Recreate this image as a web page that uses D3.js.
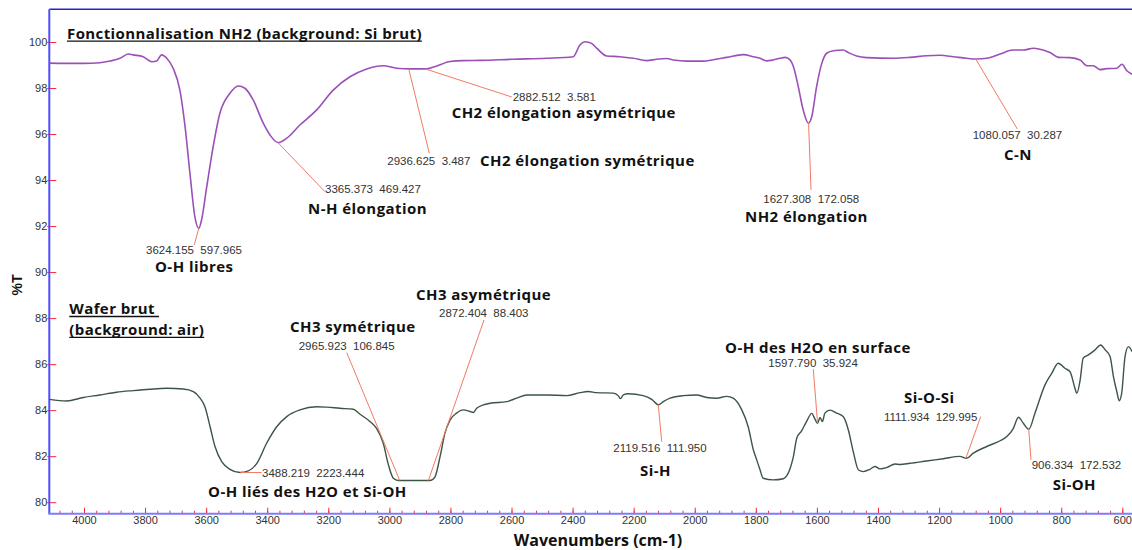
<!DOCTYPE html>
<html>
<head>
<meta charset="utf-8">
<script src="https://cdn.jsdelivr.net/npm/d3@7"></script>
<style>
  html, body { margin: 0; padding: 0; background: #fff; }
  svg { display: block; }
  .num { font-family: "Liberation Sans", Arial, sans-serif; font-size: 11.5px; fill: #333; white-space: pre; }
  .band { font-family: "Open Sans", Lato, sans-serif; font-weight: 700; font-size: 15px; letter-spacing: 0.45px; fill: #111; }
  .title { font-family: "Open Sans", Lato, sans-serif; font-weight: 700; font-size: 15px; letter-spacing: 0.4px; fill: #111; }
  .axis-title { font-family: "Open Sans", Lato, sans-serif; font-weight: 700; font-size: 16px; fill: #111; }
  .tick text { font-family: "Liberation Sans", Arial, sans-serif; font-size: 11px; fill: #333; }
</style>
</head>
<body>
<svg id="chart" width="1132" height="550"></svg>
<script>
// Functionalised wafer (NH2), background: raw Si
const topWn = [4113, 4060, 4002, 3948, 3915, 3882, 3855, 3839, 3806, 3778, 3762, 3746, 3729, 3708, 3686, 3669, 3653, 3637, 3624, 3615, 3598, 3577, 3555, 3522, 3495, 3473, 3446, 3413, 3391, 3365, 3336, 3293, 3238, 3184, 3129, 3074, 3020, 2976, 2932, 2878, 2845, 2801, 2758, 2703, 2594, 2485, 2398, 2376, 2359, 2338, 2321, 2288, 2245, 2201, 2157, 2125, 2093, 2070, 2026, 1972, 1939, 1895, 1841, 1808, 1786, 1765, 1743, 1721, 1704, 1688, 1677, 1661, 1645, 1628, 1617, 1601, 1584, 1568, 1546, 1514, 1497, 1470, 1437, 1350, 1295, 1241, 1197, 1153, 1110, 1077, 1044, 1000, 957, 924, 891, 859, 837, 809, 771, 738, 716, 695, 673, 651, 618, 601, 585, 568];
const topT  = [99.08, 99.07, 99.07, 99.10, 99.17, 99.29, 99.48, 99.44, 99.36, 99.14, 99.17, 99.44, 99.29, 98.86, 97.91, 96.32, 94.29, 92.41, 91.90, 92.27, 93.71, 95.45, 96.90, 97.77, 98.09, 97.99, 97.48, 96.47, 95.96, 95.63, 95.82, 96.39, 97.05, 97.91, 98.49, 98.83, 98.97, 98.86, 98.83, 98.83, 98.96, 99.15, 99.19, 99.20, 99.25, 99.29, 99.36, 99.87, 100.01, 99.94, 99.73, 99.39, 99.36, 99.29, 99.19, 99.25, 99.28, 99.22, 99.17, 99.17, 99.23, 99.33, 99.45, 99.36, 99.29, 99.18, 99.22, 99.29, 99.33, 99.22, 98.93, 98.06, 97.05, 96.47, 96.75, 98.06, 99.07, 99.51, 99.62, 99.65, 99.54, 99.39, 99.32, 99.29, 99.33, 99.40, 99.42, 99.36, 99.29, 99.26, 99.29, 99.48, 99.65, 99.65, 99.73, 99.65, 99.54, 99.33, 99.32, 99.22, 98.97, 98.97, 98.80, 98.84, 98.86, 99.03, 98.75, 98.60];

// Raw wafer, background: air
const bottomWn = [4113, 4057, 4002, 3948, 3893, 3839, 3784, 3729, 3675, 3642, 3620, 3604, 3587, 3571, 3549, 3522, 3489, 3462, 3434, 3402, 3369, 3336, 3293, 3238, 3205, 3162, 3118, 3096, 3063, 3042, 3020, 3003, 2987, 2971, 2867, 2851, 2834, 2818, 2801, 2780, 2758, 2736, 2725, 2714, 2692, 2670, 2616, 2583, 2550, 2485, 2419, 2376, 2349, 2321, 2267, 2250, 2243, 2234, 2218, 2169, 2141, 2119, 2103, 2081, 2038, 1994, 1961, 1928, 1895, 1874, 1846, 1825, 1808, 1797, 1786, 1776, 1743, 1710, 1688, 1677, 1666, 1650, 1634, 1617, 1606, 1598, 1590, 1582, 1574, 1557, 1535, 1514, 1497, 1481, 1464, 1448, 1426, 1410, 1394, 1372, 1344, 1328, 1295, 1241, 1186, 1132, 1110, 1088, 1044, 1000, 978, 957, 940, 924, 906, 886, 853, 831, 810, 788, 771, 755, 749, 738, 728, 711, 689, 671, 656, 640, 629, 618, 610, 602, 591, 580, 568];
const bottomT  = [84.47, 84.40, 84.55, 84.66, 84.78, 84.85, 84.91, 84.95, 84.92, 84.81, 84.52, 84.15, 83.28, 82.42, 81.76, 81.43, 81.29, 81.36, 81.69, 82.56, 83.28, 83.72, 84.01, 84.15, 84.13, 84.08, 84.04, 83.82, 83.50, 83.21, 82.56, 81.62, 81.04, 80.94, 80.94, 81.09, 81.98, 83.00, 83.58, 83.87, 84.01, 83.94, 83.90, 84.08, 84.23, 84.30, 84.37, 84.52, 84.66, 84.66, 84.63, 84.76, 84.81, 84.76, 84.74, 84.62, 84.50, 84.66, 84.71, 84.63, 84.47, 84.23, 84.37, 84.52, 84.63, 84.66, 84.55, 84.52, 84.60, 84.52, 84.01, 83.28, 82.27, 81.84, 81.40, 81.04, 80.97, 81.02, 81.45, 81.98, 82.78, 83.10, 83.50, 83.86, 83.60, 83.42, 83.68, 83.50, 83.87, 84.00, 83.87, 83.72, 83.14, 82.20, 81.40, 81.33, 81.43, 81.55, 81.45, 81.50, 81.66, 81.64, 81.69, 81.79, 81.89, 81.99, 81.91, 82.13, 82.42, 82.67, 82.85, 83.20, 83.69, 83.43, 83.17, 83.87, 85.10, 85.60, 86.04, 85.82, 85.67, 84.95, 84.73, 85.31, 86.26, 86.40, 86.62, 86.83, 86.62, 86.33, 85.46, 84.81, 84.41, 84.73, 86.33, 86.76, 86.54];

// Peak annotations
const peakSeries = ["top", "top", "top", "top", "top", "top", "bottom", "bottom", "bottom", "bottom", "bottom", "bottom", "bottom"];
const peakWn = [3624.155, 3365.373, 2936.625, 2882.512, 1627.308, 1080.057, 3488.219, 2965.923, 2872.404, 2119.516, 1597.790, 1111.934, 906.334];
const peakText = ["3624.155  597.965", "3365.373  469.427", "2936.625  3.487", "2882.512  3.581", "1627.308  172.058", "1080.057  30.287", "3488.219  2223.444", "2965.923  106.845", "2872.404  88.403", "2119.516  111.950", "1597.790  35.924", "1111.934  129.995", "906.334  172.532"];
const bandNames = ["O-H libres", "N-H élongation", "CH2 élongation symétrique", "CH2 élongation asymétrique", "NH2 élongation", "C-N", "O-H liés des H2O et Si-OH", "CH3 symétrique", "CH3 asymétrique", "Si-H", "O-H des H2O en surface", "Si-O-Si", "Si-OH"];

// Axis ticks
const yTicks = [80, 82, 84, 86, 88, 90, 92, 94, 96, 98, 100];
const xMajor = d3.range(4000, 599, -200);
const xMinor = d3.range(4080, 559, -40);

// Layout of the annotation texts, in (wavenumber, %T) units: number label start, leader end, band label start
const layout = [
  { num: [3796.9, 90.96], end: [3638.8, 91.18], name: [3767.5, 90.22] },
  { num: [3210.8, 93.61], end: [3210.8, 93.49], name: [3266.3, 92.74] },
  { num: [3006.8, 94.83], end: [2869.2, 95.16], name: [2703.2, 94.83] },
  { num: [2596.1, 97.61], end: [2599.4, 97.61], name: [2795.9, 96.91] },
  { num: [1775.5, 93.18], end: [1619.3, 93.57], name: [1835.4, 92.40] },
  { num: [1089.8, 95.96], end: [943.8, 96.22], name: [987.3, 95.09] },
  { num: [3417.1, 81.29], end: [3418.1, 81.29], name: [3593.9, 80.46] },
  { num: [3296.9, 86.79], end: [3139.7, 86.50], name: [3325.4, 87.63] },
  { num: [2837.5, 88.21], end: [2690.1, 87.92], name: [2912.8, 89.01] },
  { num: [2266.7, 82.37], end: [2108.2, 82.63], name: [2179.3, 81.36] },
  { num: [1759.1, 86.04], end: [1611.8, 85.78], name: [1900.9, 86.73] },
  { num: [1380.3, 83.72], end: [1063.6, 83.72], name: [1314.8, 84.52] },
  { num: [896.7, 81.62], end: [899.0, 81.84], name: [827.9, 80.75] }
];

const svg = d3.select("#chart");
const plotLeft = 49.3, plotTop = 9.3, plotBottom = 513.7;

const x = d3.scaleLinear().domain([4113.6, 550]).range([plotLeft, plotLeft + 3563.6 * 0.30538]);
const y = d3.scaleLinear().domain([79.5, 101.42]).range([plotBottom, plotTop]);

svg.append("defs").append("clipPath").attr("id", "plotClip")
  .append("rect").attr("x", plotLeft).attr("y", plotTop).attr("width", 1132 - plotLeft).attr("height", plotBottom - plotTop);

// Axes: ticks point into the plot
const xMinorAxis = d3.axisBottom(x).tickValues(xMinor).tickSize(-3).tickFormat("");
const xMajorAxis = d3.axisBottom(x).tickValues(xMajor).tickSize(-6).tickPadding(3).tickFormat(d3.format("d"));
const yAxis = d3.axisLeft(y).tickValues(yTicks).tickSize(-7).tickPadding(2).tickFormat(d3.format("d"));

const gxm = svg.append("g").attr("transform", `translate(0,${plotBottom})`).call(xMinorAxis);
const gx = svg.append("g").attr("transform", `translate(0,${plotBottom})`).call(xMajorAxis);
const gy = svg.append("g").attr("transform", `translate(${plotLeft},0)`).call(yAxis);
[gxm, gx, gy].forEach(g => {
  g.select(".domain").remove();
  g.selectAll(".tick line").attr("stroke", "#ff2a2a").attr("stroke-width", 1);
});
gy.selectAll(".tick line").attr("x1", -2);

// Frame lines
svg.append("line").attr("x1", plotLeft).attr("x2", 1132).attr("y1", plotTop).attr("y2", plotTop)
  .attr("stroke", "#2424cc").attr("stroke-width", 1.5);
svg.append("line").attr("x1", plotLeft).attr("x2", plotLeft).attr("y1", plotTop).attr("y2", plotBottom)
  .attr("stroke", "#4d4dff").attr("stroke-width", 2);
svg.append("line").attr("x1", plotLeft - 1).attr("x2", 1132).attr("y1", plotBottom).attr("y2", plotBottom)
  .attr("stroke", "#7d7dfa").attr("stroke-width", 2);

// Spectra
const series = {
  top: topWn.map((w, i) => [w, topT[i]]),
  bottom: bottomWn.map((w, i) => [w, bottomT[i]])
};
const interp = {
  top: d3.scaleLinear().domain(topWn).range(topT),
  bottom: d3.scaleLinear().domain(bottomWn).range(bottomT)
};
const line = d3.line().x(d => x(d[0])).y(d => y(d[1])).curve(d3.curveMonotoneX);
const plot = svg.append("g").attr("clip-path", "url(#plotClip)");
plot.append("path").datum(series.top).attr("d", line)
  .attr("fill", "none").attr("stroke", "#9b50b8").attr("stroke-width", 1.6).attr("stroke-linejoin", "round");
plot.append("path").datum(series.bottom).attr("d", line)
  .attr("fill", "none").attr("stroke", "#3c5545").attr("stroke-width", 1.4).attr("stroke-linejoin", "round");

// Leader lines and labels
const ann = svg.append("g");
peakWn.forEach((w, i) => {
  const L = layout[i];
  const py = interp[peakSeries[i]](w);
  ann.append("line")
    .attr("x1", x(w)).attr("y1", y(py))
    .attr("x2", x(L.end[0])).attr("y2", y(L.end[1]))
    .attr("stroke", "#f27a66").attr("stroke-width", 1);
  ann.append("text").attr("class", "num")
    .attr("x", x(L.num[0])).attr("y", y(L.num[1])).attr("dy", "0.35em")
    .text(peakText[i]);
  ann.append("text").attr("class", "band")
    .attr("x", x(L.name[0])).attr("y", y(L.name[1])).attr("dy", "0.35em")
    .text(bandNames[i]);
});

// Underlined sample titles
function underlined(str, wx, wt, extra) {
  const t = svg.append("text").attr("class", "title")
    .attr("x", x(wx)).attr("y", y(wt)).attr("dy", "0.35em").text(str);
  const bb = t.node().getBBox();
  svg.append("line")
    .attr("x1", bb.x).attr("x2", bb.x + bb.width + (extra || 0))
    .attr("y1", y(wt) + 7.6).attr("y2", y(wt) + 7.6)
    .attr("stroke", "#111").attr("stroke-width", 1.3);
}
underlined("Fonctionnalisation NH2 (background: Si brut)", 4055.6, 100.37);
underlined("Wafer brut", 4048.1, 88.40, 4);
underlined("(background: air)", 4048.1, 87.49);

// Axis titles
svg.append("text").attr("class", "axis-title")
  .attr("x", x(2316.8)).attr("y", 540.3).attr("dy", "0.35em").attr("text-anchor", "middle")
  .text("Wavenumbers (cm-1)");
svg.append("text")
  .attr("transform", "translate(16.7,285) rotate(-90)")
  .attr("dy", "0.35em").attr("text-anchor", "middle")
  .style("font-family", "'Liberation Sans', Arial, sans-serif").style("font-size", "14px")
  .style("font-weight", "700").style("fill", "#111")
  .text("%T");
</script>
</body>
</html>
